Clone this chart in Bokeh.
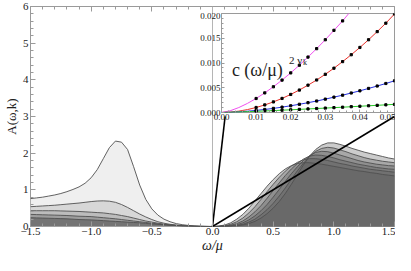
from bokeh.plotting import figure
from bokeh.layouts import column
from bokeh.models import (FixedTicker, LinearAxis, Span, Label, CustomJSTickFormatter)
from bokeh.embed import file_html
from bokeh.resources import INLINE
import numpy as np

# ---------------- data: main panel ----------------
w_left = [-1.50, -1.45, -1.40, -1.35, -1.30, -1.25, -1.20, -1.15, -1.10, -1.05,
          -1.00, -0.95, -0.90, -0.85, -0.80, -0.75, -0.70, -0.65, -0.60, -0.55,
          -0.50, -0.45, -0.40, -0.35, -0.30, -0.25, -0.20, -0.15, -0.10, -0.05, 0.0]
A_left_1 = [0.76, 0.78, 0.80, 0.83, 0.86, 0.90, 0.95, 1.01, 1.08, 1.18,
            1.33, 1.55, 1.85, 2.15, 2.33, 2.30, 2.10, 1.63, 1.13, 0.74,
            0.48, 0.31, 0.20, 0.13, 0.08, 0.05, 0.03, 0.015, 0.006, 0.002, 0.0]
A_left_2 = [0.54, 0.55, 0.56, 0.57, 0.58, 0.595, 0.61, 0.625, 0.64, 0.66,
            0.68, 0.695, 0.70, 0.69, 0.66, 0.60, 0.52, 0.43, 0.34, 0.26,
            0.19, 0.13, 0.09, 0.06, 0.04, 0.025, 0.014, 0.007, 0.003, 0.001, 0.0]
A_left_3 = [0.43, 0.43, 0.43, 0.43, 0.43, 0.425, 0.42, 0.415, 0.41, 0.40,
            0.39, 0.38, 0.37, 0.35, 0.33, 0.30, 0.27, 0.23, 0.19, 0.15,
            0.12, 0.09, 0.065, 0.045, 0.03, 0.018, 0.01, 0.005, 0.002, 0.0005, 0.0]
A_left_4 = [0.33, 0.325, 0.32, 0.315, 0.31, 0.305, 0.30, 0.29, 0.28, 0.275,
            0.27, 0.255, 0.24, 0.225, 0.21, 0.19, 0.17, 0.15, 0.13, 0.11,
            0.09, 0.07, 0.05, 0.035, 0.025, 0.016, 0.01, 0.005, 0.002, 0.0005, 0.0]
A_left_5 = [0.24, 0.235, 0.23, 0.225, 0.22, 0.215, 0.21, 0.20, 0.19, 0.185,
            0.18, 0.17, 0.16, 0.15, 0.14, 0.13, 0.12, 0.11, 0.10, 0.085,
            0.07, 0.06, 0.05, 0.038, 0.027, 0.018, 0.012, 0.006, 0.003, 0.001, 0.0]

w_right = [0.00, 0.05, 0.10, 0.15, 0.20, 0.25, 0.30, 0.35, 0.40, 0.45,
           0.50, 0.55, 0.60, 0.65, 0.70, 0.75, 0.80, 0.85, 0.90, 0.95,
           1.00, 1.05, 1.10, 1.15, 1.20, 1.25, 1.30, 1.35, 1.40, 1.45, 1.50]
A_right_0 = [0, 0.01, 0.04, 0.10, 0.20, 0.33, 0.50, 0.70, 0.90, 1.10, 1.28, 1.44, 1.57, 1.66, 1.72, 1.74,
             1.74, 1.72, 1.70, 1.67, 1.64, 1.61, 1.58, 1.55, 1.52, 1.50, 1.47, 1.45, 1.42, 1.40, 1.38]
A_right_1 = [0, 0.005, 0.02, 0.06, 0.13, 0.23, 0.37, 0.54, 0.74, 0.95, 1.15, 1.34, 1.51, 1.65, 1.75, 1.82,
             1.85, 1.85, 1.83, 1.80, 1.76, 1.72, 1.69, 1.65, 1.62, 1.59, 1.56, 1.54, 1.52, 1.50, 1.48]
A_right_2 = [0, 0.003, 0.012, 0.035, 0.08, 0.15, 0.26, 0.40, 0.57, 0.77, 0.98, 1.19, 1.39, 1.57, 1.72, 1.84,
             1.92, 1.95, 1.94, 1.91, 1.87, 1.82, 1.78, 1.74, 1.70, 1.67, 1.64, 1.61, 1.59, 1.57, 1.56]
A_right_3 = [0, 0.002, 0.008, 0.02, 0.05, 0.10, 0.18, 0.29, 0.43, 0.60, 0.80, 1.01, 1.23, 1.44, 1.63, 1.80,
             1.93, 2.02, 2.05, 2.04, 2.00, 1.95, 1.90, 1.85, 1.80, 1.76, 1.73, 1.70, 1.68, 1.66, 1.65]
A_right_4 = [0, 0.001, 0.005, 0.013, 0.03, 0.06, 0.12, 0.20, 0.32, 0.46, 0.63, 0.83, 1.05, 1.29, 1.52, 1.73,
             1.91, 2.05, 2.13, 2.16, 2.14, 2.09, 2.04, 1.98, 1.93, 1.88, 1.84, 1.81, 1.78, 1.76, 1.74]
A_right_5 = [0, 0.0, 0.003, 0.008, 0.018, 0.04, 0.08, 0.14, 0.23, 0.35, 0.50, 0.68, 0.90, 1.15, 1.42, 1.68,
             1.92, 2.10, 2.22, 2.28, 2.28, 2.24, 2.19, 2.13, 2.08, 2.03, 1.99, 1.95, 1.91, 1.87, 1.84]

# zoom-indicator lines: from origin to the inset's lower corners
zoom_origin = [0.0, 0.0]
zoom_corner_w = [0.104, 1.5]
zoom_corner_A = [3.0, 3.0]

x_ticks = [-1.5, -1.0, -0.5, 0.0, 0.5, 1.0, 1.5]
y_ticks = [0, 1, 2, 3, 4, 5, 6]

# ---------------- data: inset ----------------
w_in = [0.0, 0.0025, 0.005, 0.0075, 0.01, 0.0125, 0.015, 0.0175, 0.02, 0.0225, 0.025,
        0.0275, 0.03, 0.0325, 0.035, 0.0375, 0.04, 0.0425, 0.045, 0.0475, 0.05]
y_magenta = [0.0, 0.00035, 0.0010, 0.00184, 0.00283, 0.00396, 0.0052, 0.00655, 0.0080, 0.00955,
             0.0112, 0.0129, 0.0147, 0.0166, 0.0185, 0.0206, 0.0226]
y_red = [0.0, 0.000078, 0.00028, 0.00059, 0.00101, 0.00153, 0.00214, 0.00284, 0.00365, 0.00454,
         0.00552, 0.00657, 0.00772, 0.00895, 0.01028, 0.01167, 0.01314, 0.0147, 0.01634, 0.01805, 0.0199]
y_blue = [0.0, 0.00004, 0.00013, 0.00026, 0.00042, 0.00061, 0.00083, 0.00108, 0.00136, 0.00166,
          0.00198, 0.00232, 0.0027, 0.0031, 0.0035, 0.00394, 0.00438, 0.00486, 0.00535, 0.00586, 0.0064]
y_green = [0.0, 0.000045, 0.000104, 0.000169, 0.000239, 0.000312, 0.000388, 0.000467, 0.000549, 0.000632,
           0.000717, 0.000804, 0.000892, 0.000984, 0.00107, 0.00117, 0.00126, 0.00136, 0.00145, 0.00155, 0.00165]
in_x_ticks = [0.0, 0.01, 0.02, 0.03, 0.04, 0.05]
in_y_ticks = [0.0, 0.005, 0.010, 0.015, 0.020]

SERIF = "Liberation Serif"
GRAY = "#9a9a9a"
TXT = "#222222"

# ---------------- main figure (fits the 395x255 content box) ----------------
p = figure(width=395, height=255, x_range=(-1.5, 1.5), y_range=(0, 6),
           output_backend="svg", toolbar_location=None,
           min_border_left=10, min_border_right=1, min_border_top=6, min_border_bottom=10)
p.xgrid.visible = False
p.ygrid.visible = False
p.outline_line_color = GRAY
p.background_fill_color = "white"
p.border_fill_color = "white"

left_curves = [A_left_1, A_left_2, A_left_3, A_left_4, A_left_5]
left_fills = ["#efefef", "#d7d7d7", "#bcbcbc", "#9d9d9d", "#747474"]
for c, f in zip(left_curves, left_fills):
    p.varea(x=w_left, y1=0, y2=c, fill_color=f, fill_alpha=1.0)
for c in left_curves:
    p.line(x=w_left, y=c, line_color="#505050", line_width=0.9)

right_curves = [A_right_0, A_right_1, A_right_2, A_right_3, A_right_4, A_right_5]
for c in right_curves:
    p.varea(x=w_right, y1=0, y2=c, fill_color="#555555", fill_alpha=0.3)
for c in right_curves:
    p.line(x=w_right, y=c, line_color="#505050", line_width=0.9)

p.add_layout(Span(location=0, dimension="height", line_color="#b5b5b5", line_width=1))

for i in range(2):
    p.line(x=[zoom_origin[0], zoom_corner_w[i]], y=[zoom_origin[1], zoom_corner_A[i]],
           line_color="black", line_width=1.6)

xt = FixedTicker(ticks=x_ticks, minor_ticks=list(np.round(np.arange(-1.5, 1.501, 0.1), 2)))
yt = FixedTicker(ticks=y_ticks, minor_ticks=list(np.round(np.arange(0, 6.001, 0.2), 2)))
fmt_x = CustomJSTickFormatter(code="return tick.toFixed(1).replace('-', '\u2212');")
blank = CustomJSTickFormatter(code="return '';")

def style_axis(ax, labels=True, size="11px"):
    ax.axis_line_color = None
    ax.major_tick_line_color = GRAY
    ax.minor_tick_line_color = GRAY
    ax.major_tick_in = 5
    ax.major_tick_out = 0
    ax.minor_tick_in = 3
    ax.minor_tick_out = 0
    ax.major_label_text_font = SERIF
    ax.major_label_text_font_size = size if labels else "0px"
    ax.major_label_text_color = TXT
    ax.major_label_standoff = 2 if labels else 0
    if not labels:
        ax.axis_label_standoff = 0
        ax.axis_label_text_font_size = "0px"

p.xaxis.ticker = xt
p.xaxis.formatter = fmt_x
p.yaxis.ticker = yt
style_axis(p.xaxis[0])
style_axis(p.yaxis[0])
p.xaxis.major_label_standoff = 1
p.xaxis.axis_label = "ω/μ"
p.xaxis.axis_label_text_font = SERIF
p.xaxis.axis_label_text_font_style = "italic"
p.xaxis.axis_label_text_font_size = "14px"
p.xaxis.axis_label_text_color = TXT
p.xaxis.axis_label_standoff = 0
p.yaxis.axis_label = "A(ω,k)"
p.yaxis.axis_label_text_font = SERIF
p.yaxis.axis_label_text_font_style = "normal"
p.yaxis.axis_label_text_font_size = "13px"
p.yaxis.axis_label_text_color = TXT
p.yaxis.axis_label_standoff = 1

# tick marks along the top edge (no labels)
top_ax = LinearAxis(ticker=xt, formatter=blank)
style_axis(top_ax, labels=False)
p.add_layout(top_ax, "above")

# ---------------- inset figure ----------------
q = figure(frame_width=173, frame_height=99, x_range=(0, 0.05), y_range=(0, 0.02),
           output_backend="svg", toolbar_location=None,
           min_border_left=30, min_border_right=1, min_border_top=1, min_border_bottom=14)
q.xgrid.visible = False
q.ygrid.visible = False
q.outline_line_color = GRAY
q.background_fill_color = "white"
q.border_fill_alpha = 0.0
q.styles = {"position": "absolute", "left": "191px", "top": "12px"}

series = [(y_magenta, "#f050f0"), (y_red, "#e8302a"), (y_blue, "#2530e0"), (y_green, "#28c828")]
for ys, col in series:
    q.line(x=w_in[:len(ys)], y=ys, line_color=col, line_width=1.0)
for ys, col in series:
    q.scatter(x=w_in[4:len(ys)], y=ys[4:], marker="square", size=2.2, color="black")

ixt = FixedTicker(ticks=in_x_ticks, minor_ticks=list(np.round(np.arange(0, 0.0501, 0.002), 4)))
iyt = FixedTicker(ticks=in_y_ticks, minor_ticks=list(np.round(np.arange(0, 0.0201, 0.001), 4)))
q.xaxis.ticker = ixt
q.yaxis.ticker = iyt
q.xaxis.formatter = CustomJSTickFormatter(code="return tick.toFixed(2);")
q.yaxis.formatter = CustomJSTickFormatter(code="return tick.toFixed(3);")
style_axis(q.xaxis[0], size="9px")
style_axis(q.yaxis[0], size="9px")
for ax in (q.xaxis[0], q.yaxis[0]):
    ax.major_tick_in = 3
    ax.minor_tick_in = 2
    ax.major_label_standoff = 1

lab_w, lab_y = 0.0030, 0.0086
q.add_layout(Label(x=lab_w, y=lab_y, text="c (ω/μ)", text_font=SERIF,
                   text_font_size="18px", text_color=TXT, text_baseline="alphabetic"))
q.add_layout(Label(x=lab_w, y=lab_y, x_offset=57, y_offset=10, text="2 ν", text_font=SERIF,
                   text_font_size="11px", text_color=TXT, text_baseline="alphabetic"))
q.add_layout(Label(x=lab_w, y=lab_y, x_offset=71, y_offset=7, text="k", text_font=SERIF,
                   text_font_size="8px", text_color=TXT, text_baseline="alphabetic"))

layout = column(p, q, styles={"position": "relative"})
open("out.html", "w").write(file_html(layout, INLINE))
